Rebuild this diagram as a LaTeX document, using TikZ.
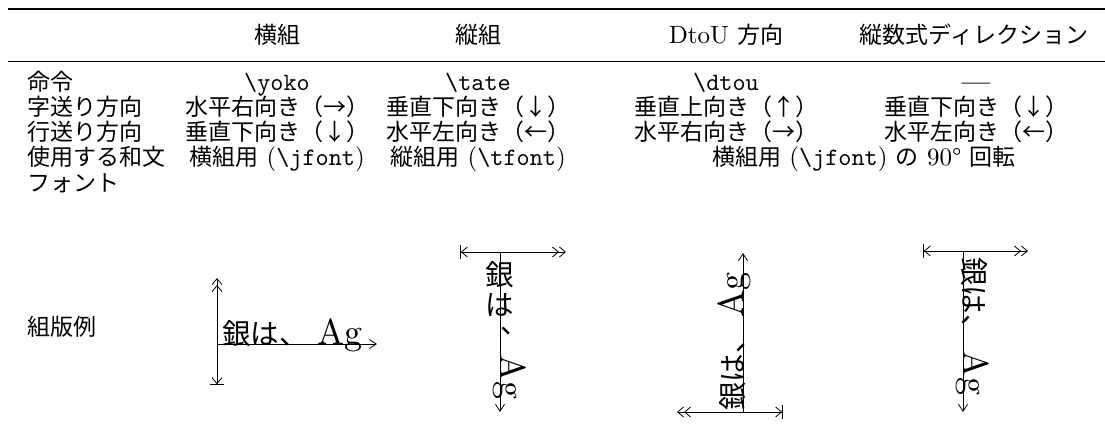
\documentclass[tikz,border=0pt]{standalone}
\usepackage{fontspec}
\setmainfont{lmroman10-regular.otf}[BoldFont=lmroman10-bold.otf]
\setmonofont{lmmono10-regular.otf}
\newfontfamily\jp{Noto Sans CJK JP}[Scale=0.92]
\usetikzlibrary{arrows.meta}
\tikzset{
  tb/.style={inner sep=0pt, anchor=base, font=\fontsize{25}{29}\selectfont},
  lab/.style={inner sep=0pt, anchor=base west, font=\fontsize{25}{29}\selectfont\jp},
  ex/.style={inner sep=0pt, font=\fontsize{36}{40}\selectfont},
  exj/.style={inner sep=0pt, font=\fontsize{31}{35}\selectfont\jp},
  dimline/.style={line width=0.8pt,
    arrows={Bar[width=14pt]Straight Barb[length=6pt,width=10pt]-Straight Barb[length=6pt,width=10pt]Straight Barb[length=6pt,width=10pt]}},
  advline/.style={line width=0.8pt, arrows={-Straight Barb[length=7pt,width=9pt]}},
}
\newcommand{\tb}[1]{{\ttfamily\textbackslash #1}}
\newcommand{\kj}[1]{{\fontsize{31}{35}\selectfont\jp #1}}
\begin{document}
\begin{tikzpicture}[x=1pt,y=-1pt]
\useasboundingbox (0,0) rectangle (1105,439);
% rules
\coordinate (r1a) at (8,9); \coordinate (r1b) at (1105,9);
\coordinate (r2a) at (8,61); \coordinate (r2b) at (1105,61);
\draw[line width=1.7pt] (r1a) -- (r1b);
\draw[line width=1pt] (r2a) -- (r2b);
% header
\node[tb] (h1) at (277,43) {\jp 横組};
\node[tb] (h2) at (478,43) {\jp 縦組};
\node[tb] (h3) at (726,43) {DtoU {\jp 方向}};
\node[tb] (h4) at (974,43) {\jp 縦数式ディレクション};
% labels
\node[lab] (l1) at (27,90) {命令};
\node[lab] (l2) at (27,115) {字送り方向};
\node[lab] (l3) at (27,140) {行送り方向};
\node[lab] (l4) at (27,165) {使用する和文};
\node[lab] (l5) at (27,191) {フォント};
\node[lab] (l6) at (27,335) {組版例};
% row 1
\node[tb] (a1) at (277,90) {\tb{yoko}};
\node[tb] (b1) at (478,90) {\tb{tate}};
\node[tb] (c1) at (726,90) {\tb{dtou}};
\node[tb] (d1) at (976,90) {\bfseries —};
% row 2
\node[tb] (a2) at (277,115) {\jp 水平右向き（→）};
\node[tb] (b2) at (478,115) {\jp 垂直下向き（↓）};
\node[tb] (c2) at (726,115) {\jp 垂直上向き（↑）};
\node[tb] (d2) at (976,115) {\jp 垂直下向き（↓）};
% row 3
\node[tb] (a3) at (277,140) {\jp 垂直下向き（↓）};
\node[tb] (b3) at (478,140) {\jp 水平左向き（←）};
\node[tb] (c3) at (726,140) {\jp 水平右向き（→）};
\node[tb] (d3) at (976,140) {\jp 水平左向き（←）};
% row 4
\node[tb] (a4) at (277,165) {{\jp 横組用} (\tb{jfont})};
\node[tb] (b4) at (478,165) {{\jp 縦組用} (\tb{tfont})};
\node[tb] (c4) at (864,165) {{\jp 横組用} (\tb{jfont}) {\jp の} 90° {\jp 回転}};
% example: yoko
\coordinate (yO) at (217,344); \coordinate (yT) at (217,278);
\coordinate (yB) at (217,385); \coordinate (yR) at (377,344);
\draw[dimline] (yB) -- (yT);
\draw[advline] (yO) -- (yR);
\node[ex, anchor=base west] (ytxt) at (222,344) {\kj{銀は、}\kern10pt Ag};
% example: tate
\coordinate (tO) at (500,252); \coordinate (tL) at (460,252);
\coordinate (tR) at (566,252); \coordinate (tE) at (500,412);
\draw[dimline] (tL) -- (tR);
\draw[advline] (tO) -- (tE);
\node[exj] (t1) at (500,275) {銀};
\node[exj] (t2) at (500,305) {は};
\node[exj] (t3) at (515,331) {、};
\node[ex, rotate=-90, anchor=base west] (t4) at (500,354) {Ag};
% example: dtou
\coordinate (dO) at (743,412); \coordinate (dT) at (743,253);
\coordinate (dL) at (677,412); \coordinate (dR) at (783,412);
\draw[dimline] (dR) -- (dL);
\draw[advline] (dO) -- (dT);
\node[ex, rotate=90, anchor=base west] (dtxt) at (743,411) {\kj{銀は、}\kern8pt Ag};
% example: math direction
\coordinate (mO) at (963,251); \coordinate (mL) at (923,251);
\coordinate (mR) at (1028,251); \coordinate (mE) at (963,412);
\draw[dimline] (mL) -- (mR);
\draw[advline] (mO) -- (mE);
\node[ex, rotate=-90, anchor=base west] (mtxt) at (963,257) {\kj{銀は、}\kern8pt Ag};
\end{tikzpicture}
\end{document}
